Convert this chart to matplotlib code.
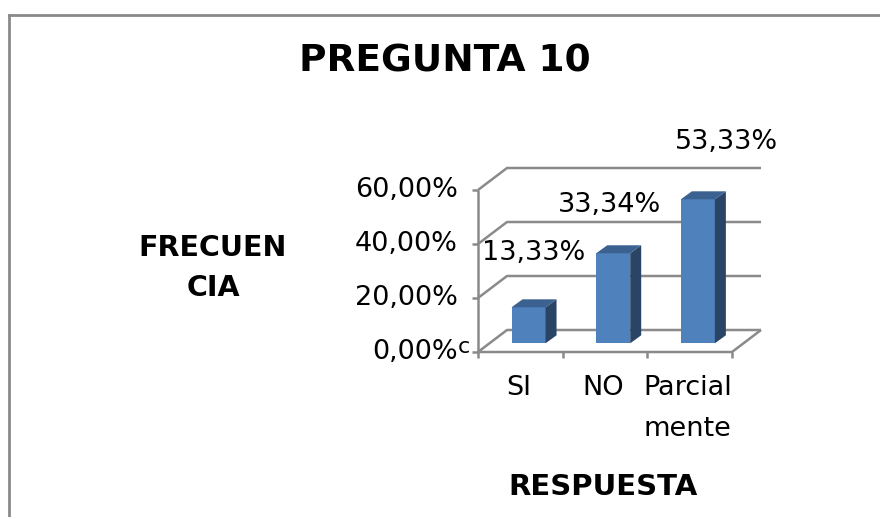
import matplotlib
matplotlib.use('Agg')
import matplotlib.pyplot as plt
from matplotlib.patches import Polygon

plt.rcParams['font.family'] = ['DejaVu Sans']

categorias = ['SI', 'NO', 'Parcial\nmente']
valores = [13.33, 33.34, 53.33]
etiquetas = ['13,33%', '33,34%', '53,33%']
ticks_y = [0, 20, 40, 60]
ticks_y_txt = ['0,00%', '20,00%', '40,00%', '60,00%']

W, H = 880, 517
GRIS = '#8a8a8a'
AZUL = '#4f81bd'
AZUL_TOP = '#3a6190'
AZUL_LADO = '#2a4465'


def main():
    fig = plt.figure(figsize=(W / 100, H / 100), dpi=100)

    # marco del grafico, se corta abajo y a la derecha
    fondo = fig.add_axes([0, 0, 1, 1])
    fondo.set_xlim(0, W)
    fondo.set_ylim(H, 0)
    fondo.axis('off')
    fondo.plot([8.7, 8.7], [H, 15], color=GRIS, lw=2)
    fondo.plot([8.7, W], [15, 15], color=GRIS, lw=2)

    fondo.text(445, 61, 'PREGUNTA 10', fontsize=27, fontweight='bold', ha='center', va='center')
    fondo.text(213, 268, 'FRECUEN\nCIA', fontsize=20.5, fontweight='bold', ha='center', va='center', linespacing=1.55)
    fondo.text(603, 487, 'RESPUESTA', fontsize=21, fontweight='bold', ha='center', va='center')
    fondo.text(464, 347, 'c', fontsize=16, ha='center', va='center')

    # plano frontal del grafico 3D
    ax = fig.add_axes([478 / W, 1 - 352 / H, 254 / W, 162 / H])
    ax.set_xlim(0, 3)
    ax.set_ylim(0, 60)
    ax.axis('off')
    ax.patch.set_alpha(0)

    # profundidad del piso y de las barras, en unidades de datos
    ux = 3 / 254
    uy = 60 / 162
    px, py = 29 * ux, 22 * uy
    bx, by = 11 * ux, 8 * uy
    base = 8.7 * uy
    corr = 8.2 * ux

    lin = dict(color=GRIS, lw=1.8, clip_on=False, solid_capstyle='butt')
    for t in ticks_y:
        ax.plot([0, px, 3 + px], [t, t + py, t + py], **lin)
        ax.plot([-6 * ux, 0], [t, t], **lin)
    ax.plot([0, 0], [0, 60], **lin)
    ax.plot([0, 3, 3 + px], [0, 0, py], **lin)
    for i in range(4):
        ax.plot([i, i], [0, -6 * uy], **lin)

    ancho = 34 * ux
    for i, v in enumerate(valores):
        x0 = i + 0.5 + corr - ancho / 2
        x1 = x0 + ancho
        y1 = v + base
        ax.bar(x0, v, width=ancho, bottom=base, align='edge', color=AZUL, clip_on=False, zorder=3)
        ax.add_patch(Polygon([(x1, base), (x1 + bx, base + by), (x1 + bx, y1 + by), (x1, y1)],
                             closed=True, color=AZUL_LADO, lw=0, clip_on=False, zorder=3))
        ax.add_patch(Polygon([(x0, y1), (x1, y1), (x1 + bx, y1 + by), (x0 + bx, y1 + by)],
                             closed=True, color=AZUL_TOP, lw=0, clip_on=False, zorder=3))

    for t, s in zip(ticks_y, ticks_y_txt):
        ax.annotate(s, (0, t), xytext=(-20, 0), textcoords='offset pixels', ha='right', va='center',
                    fontsize=19.5, annotation_clip=False)

    # las etiquetas estan movidas a mano en el original
    despl = [(5, 54), (-4, 48), (29, 57)]
    for i, v in enumerate(valores):
        ax.annotate(etiquetas[i], (i + 0.5 + corr, v + base), xytext=despl[i], textcoords='offset pixels',
                    ha='center', va='center', fontsize=19.5, annotation_clip=False)

    for i, c in enumerate(categorias):
        ax.annotate(c, (i + 0.5, 0), xytext=(-2, -23), textcoords='offset pixels', ha='center', va='top',
                    fontsize=19.5, linespacing=1.75, annotation_clip=False)

    fig.savefig('out.png', dpi=100)


if __name__ == '__main__':
    main()
